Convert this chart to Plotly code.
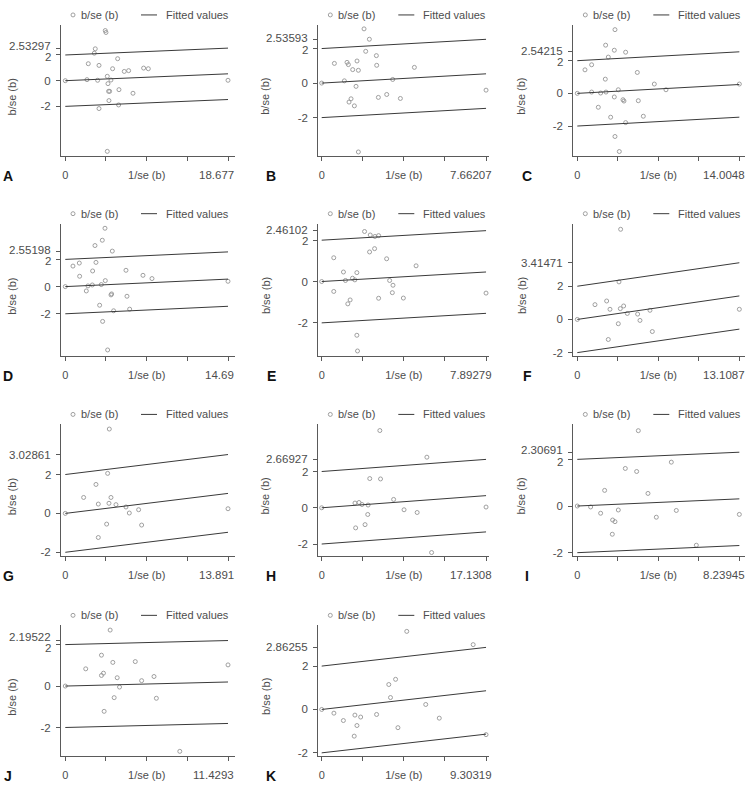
import plotly.graph_objects as go

# ---------------- data ----------------
panels = ["A", "B", "C", "D", "E", "F", "G", "H", "I", "J", "K"]
x_max_labels = ["18.677", "7.66207", "14.0048", "14.69", "7.89279", "13.1087",
                "13.891", "17.1308", "8.23945", "11.4293", "9.30319"]
upper_labels = ["2.53297", "2.53593", "2.54215", "2.55198", "2.46102", "3.41471",
                "3.02861", "2.66927", "2.30691", "2.19522", "2.86255"]

A_x = [0, 4.59, 4.67, 3.44, 3.33, 2.64, 3.87, 6.01, 5.43, 6.77, 7.27, 8.99, 9.53, 2.49, 3.71,
       4.82, 5.24, 4.90, 4.97, 5.09, 6.16, 7.77, 5.01, 6.12, 3.87, 4.82, 18.677]
A_y = [0, 3.90, 3.75, 2.48, 2.14, 1.32, 1.19, 1.71, 0.93, 0.72, 0.78, 0.98, 0.93, 0.08, 0.03,
       0.34, 0.05, -0.23, -0.83, -0.83, -0.70, -0.98, -1.55, -1.89, -2.17, -5.50, 0.03]

B_x = [0, 1.974, 2.222, 2.052, 2.549, 0.591, 1.181, 1.243, 1.647, 1.445, 1.710, 2.564, 4.321,
       1.057, 3.310, 1.601, 2.642, 3.031, 3.668, 1.368, 1.274, 1.523, 1.710, 7.66207]
B_y = [0, 3.14, 2.54, 1.84, 1.59, 1.14, 1.20, 1.07, 1.28, 0.78, 0.74, 1.03, 0.91,
       0.13, 0.21, -0.19, -0.83, -0.66, -0.89, -0.91, -1.10, -1.32, -3.99, -0.41]

C_x = [0, 3.256, 2.449, 3.199, 4.178, 2.680, 0.663, 1.239, 5.187, 2.421, 6.657, 7.665, 14.0048,
       1.239, 2.017, 2.478, 3.544, 3.199, 3.948, 4.034, 5.273, 1.815, 2.882, 5.706, 4.178, 3.256, 3.631]
C_y = [0, 3.90, 2.95, 2.64, 2.52, 2.22, 1.44, 1.75, 1.28, 0.87, 0.57, 0.22, 0.57,
       0.08, 0.02, 0.08, 0.22, -0.22, -0.39, -0.47, -0.45, -0.85, -1.46, -1.40, -1.79, -2.64, -3.56]

D_x = [0, 3.582, 3.341, 2.679, 4.244, 0.692, 1.264, 2.769, 1.294, 2.468, 5.479, 7.014, 7.827, 14.69,
       3.612, 2.047, 2.438, 3.251, 1.896, 4.184, 4.124, 5.569, 3.101, 4.365, 5.810, 3.371, 3.823]
D_y = [0, 4.29, 3.41, 3.02, 2.61, 1.51, 1.73, 1.78, 0.76, 1.15, 1.20, 0.83, 0.59, 0.39,
       0.44, 0.05, 0.12, 0.15, -0.32, -0.54, -0.61, -0.71, -1.37, -1.78, -1.66, -2.56, -4.66]

E_x = [0, 2.058, 2.331, 2.556, 2.733, 2.299, 2.540, 0.579, 3.119, 4.533, 1.045, 1.688, 1.141,
       1.479, 1.591, 3.263, 3.424, 0.579, 3.392, 1.366, 1.254, 2.733, 3.922, 7.89279, 1.688, 1.720]
E_y = [0, 2.42, 2.25, 2.18, 2.22, 1.43, 1.59, 1.15, 1.10, 0.76, 0.46, 0.43, 0.05,
       0.16, 0.08, 0.05, -0.18, -0.48, -0.54, -0.89, -1.08, -0.81, -0.80, -0.56, -2.60, -3.36]

F_x = [0, 3.506, 3.372, 1.430, 2.374, 2.643, 3.480, 3.749, 4.046, 4.882, 5.880, 5.071, 3.318,
       6.069, 2.508, 13.1087]
F_y = [0, 5.43, 2.26, 0.89, 1.11, 0.61, 0.65, 0.81, 0.36, 0.32, 0.55, -0.06, -0.26,
       -0.73, -1.21, 0.61]

G_x = [0, 3.757, 3.615, 2.619, 1.566, 3.900, 2.818, 3.729, 4.327, 5.181, 5.465, 6.262, 3.530,
       6.518, 2.818, 13.891]
G_y = [0, 4.34, 2.06, 1.49, 0.82, 0.82, 0.48, 0.52, 0.45, 0.33, 0.02, 0.19, -0.55,
       -0.60, -1.24, 0.24]

H_x = [0, 6.061, 10.965, 5.010, 6.131, 7.497, 3.468, 3.889, 4.204, 4.835, 4.800, 3.538, 4.519,
       8.583, 9.949, 11.456, 17.1308]
H_y = [0, 4.26, 2.79, 1.61, 1.59, 0.46, 0.26, 0.29, 0.18, 0.15, -0.37, -1.11, -0.93,
       -0.11, -0.26, -2.47, 0.04]

I_x = [0, 3.103, 4.781, 2.441, 3.018, 1.390, 3.594, 0.678, 1.187, 2.085, 5.035, 1.797, 1.916,
       4.018, 1.780, 6.053, 8.23945]
I_y = [0, 3.23, 1.88, 1.61, 1.48, 0.67, 0.54, -0.04, -0.31, -0.17, -0.19, -0.60, -0.67,
       -0.48, -1.21, -1.68, -0.36]

J_x = [0, 3.151, 2.540, 3.339, 4.915, 11.4293, 1.435, 2.681, 2.540, 3.645, 6.232, 5.362, 3.810,
       3.433, 6.397, 2.728, 8.043]
J_y = [0, 2.70, 1.49, 1.14, 1.18, 1.02, 0.83, 0.62, 0.51, 0.40, 0.46, 0.26, -0.05,
       -0.56, -0.59, -1.22, -3.15]

K_x = [0, 4.815, 8.574, 4.182, 3.798, 3.894, 5.889, 0.691, 1.228, 1.880, 2.206, 3.107, 6.656,
       1.995, 4.316, 1.841, 9.30319]
K_y = [0, 3.60, 2.99, 1.39, 1.15, 0.55, 0.23, -0.17, -0.51, -0.26, -0.35, -0.23, -0.40,
       -0.74, -0.84, -1.23, -1.16]

points_x = [A_x, B_x, C_x, D_x, E_x, F_x, G_x, H_x, I_x, J_x, K_x]
points_y = [A_y, B_y, C_y, D_y, E_y, F_y, G_y, H_y, I_y, J_y, K_y]

# ---------------- layout geometry (pixels) ----------------
W, H = 752, 787
col_left = [61, 318.3, 573.3]
col_right = [235, 489, 745]
col_xpad = [(-0.0264, 1.043), (-0.0207, 1.018), (-0.0247, 1.035)]
row_top = [25, 224.5, 426, 627.7]
row_bottom = [156.7, 357.3, 558.3, 759]
y_ranges = [[-5.87, 4.34], [-4.23, 3.37], [-3.84, 4.19], [-5.1, 4.63], [-3.6, 2.8],
            [-2.2, 5.77], [-2.2, 4.58], [-2.67, 4.6], [-2.15, 3.5], [-3.38, 2.93], [-2.15, 3.88]]
letter_dx = [-53, -47, -46]
ytitle_dx = [-49, -53, -52]

FONT = "Liberation Sans, Arial, sans-serif"
TXT = "#4d4d4d"
AXC = "#5a5a5a"
PT = "#959595"
LN = "#3a3a3a"
TICK_FS = 11.5
LAB_FS = 11

fig = go.Figure()
annotations = []
shapes = []


def px(xp):
    return xp / W


def py(yp):
    return 1 - yp / H


for i, name in enumerate(panels):
    r, c = divmod(i, 3)
    n = i + 1
    xa = "x" if n == 1 else f"x{n}"
    ya = "y" if n == 1 else f"y{n}"
    M = float(x_max_labels[i])
    slope_end = float(upper_labels[i]) - 2.0

    fig.add_trace(go.Scatter(
        x=points_x[i], y=points_y[i], mode="markers", xaxis=xa, yaxis=ya,
        marker=dict(symbol="circle-open", size=4, color=PT, line=dict(width=0.9, color=PT)),
        showlegend=False, hoverinfo="x+y"))
    for off in (0, 2, -2):
        fig.add_trace(go.Scatter(
            x=[0, M], y=[off, off + slope_end], mode="lines", xaxis=xa, yaxis=ya,
            line=dict(color=LN, width=1), showlegend=False, hoverinfo="skip"))

    xk = "xaxis" if n == 1 else f"xaxis{n}"
    yk = "yaxis" if n == 1 else f"yaxis{n}"
    lo, hi = col_xpad[c]
    fig.update_layout({
        xk: dict(domain=[px(col_left[c]), px(col_right[c])], anchor=ya,
                 range=[lo * M, hi * M], showgrid=False, zeroline=False,
                 showline=True, linecolor=AXC, linewidth=1,
                 ticks="outside", ticklen=4, tickcolor=AXC, tickwidth=1,
                 tickvals=[0, M / 4, M / 2, 3 * M / 4, M],
                 ticktext=["0", "", "1/se (b)", "", ""],
                 tickfont=dict(family=FONT, size=LAB_FS, color=TXT),
                 ticklabelstandoff=5),
        yk: dict(domain=[py(row_bottom[r]), py(row_top[r])], anchor=xa,
                 range=y_ranges[i], showgrid=False, zeroline=False,
                 showline=True, linecolor=AXC, linewidth=1,
                 ticks="outside", ticklen=4, tickcolor=AXC, tickwidth=1,
                 tickvals=[-2, 0, 2, 2 + slope_end],
                 ticktext=["-2", "0", "", ""],
                 tickfont=dict(family=FONT, size=TICK_FS, color=TXT),
                 ticklabelstandoff=3),
    })

    # "2" and the upper-line end label, pushed apart a little as in the reference
    ppu = (row_bottom[r] - row_top[r]) / (y_ranges[i][1] - y_ranges[i][0])
    gap = slope_end * ppu
    push = max(0.0, (11.5 - gap) / 2)
    for val, txt, sh in ((2.0, "2", -push), (2 + slope_end, upper_labels[i], push)):
        annotations.append(dict(
            x=0, y=val, xref=f"{xa} domain", yref=ya, text=txt, showarrow=False,
            xanchor="right", yanchor="middle", xshift=-8, yshift=sh,
            font=dict(family=FONT, size=TICK_FS, color=TXT)))

    # max label on the x axis
    annotations.append(dict(
        x=M, y=0, xref=xa, yref=f"{ya} domain", text=x_max_labels[i],
        showarrow=False, xanchor="right", yanchor="middle", xshift=8, yshift=-19,
        font=dict(family=FONT, size=TICK_FS, color=TXT)))
    # panel letter
    annotations.append(dict(
        x=px(col_left[c] + letter_dx[c]), y=py(row_bottom[r] + 20), xref="paper", yref="paper",
        text=f"<b>{name}</b>", showarrow=False, xanchor="center", yanchor="middle",
        font=dict(family=FONT, size=14, color="#111")))
    # y axis title
    annotations.append(dict(
        x=px(col_left[c] + ytitle_dx[c]), y=py((row_top[r] + row_bottom[r]) / 2 + 6),
        xref="paper", yref="paper", text="b/se (b)", textangle=-90, showarrow=False,
        xanchor="center", yanchor="middle", font=dict(family=FONT, size=LAB_FS, color=TXT)))
    # legend
    ly = row_top[r] - 10
    L = col_left[c]
    shapes.append(dict(type="circle", xref="paper", yref="paper",
                       x0=px(L + 10), x1=px(L + 14), y0=py(ly - 2), y1=py(ly + 2),
                       line=dict(color=PT, width=0.9)))
    annotations.append(dict(
        x=px(L + 18), y=py(ly), xref="paper", yref="paper", text="b/se (b)",
        showarrow=False, xanchor="left", yanchor="middle",
        font=dict(family=FONT, size=LAB_FS, color=TXT)))
    shapes.append(dict(type="line", xref="paper", yref="paper",
                       x0=px(L + 80), x1=px(L + 96), y0=py(ly), y1=py(ly),
                       line=dict(color=LN, width=1)))
    annotations.append(dict(
        x=px(L + 103), y=py(ly), xref="paper", yref="paper", text="Fitted values",
        showarrow=False, xanchor="left", yanchor="middle",
        font=dict(family=FONT, size=LAB_FS, color=TXT)))

fig.update_layout(
    width=W, height=H, margin=dict(l=0, r=0, t=0, b=0),
    paper_bgcolor="white", plot_bgcolor="white",
    annotations=annotations, shapes=shapes, showlegend=False,
    font=dict(family=FONT, color=TXT),
)

fig.write_html("out.html")
